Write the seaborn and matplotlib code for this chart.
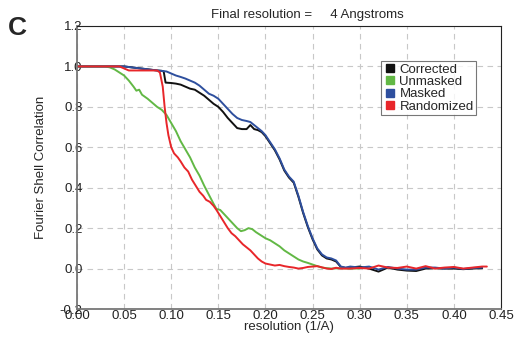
import numpy as np
import pandas as pd
import matplotlib
matplotlib.use("Agg")
import matplotlib.pyplot as plt
from matplotlib.lines import Line2D
import seaborn as sns

series_names = ["Corrected", "Unmasked", "Masked", "Randomized"]
colors = ["#111111", "#62b845", "#2e4f9e", "#e8262a"]

tail_x = [0.29, 0.30, 0.31, 0.32, 0.33, 0.34, 0.35, 0.36, 0.37, 0.38, 0.39, 0.40, 0.41, 0.42, 0.43]

masked_x = [0.0, 0.05, 0.085, 0.09, 0.095, 0.1, 0.105, 0.11, 0.115, 0.12, 0.125, 0.13, 0.135, 0.14,
            0.145, 0.15, 0.155, 0.16, 0.165, 0.17, 0.175, 0.18, 0.184, 0.188, 0.192, 0.196, 0.2,
            0.205, 0.21, 0.215, 0.22, 0.225, 0.23, 0.235, 0.24, 0.245, 0.25, 0.255, 0.26, 0.265,
            0.27, 0.275, 0.28, 0.285] + tail_x
masked_y = [1.0, 1.0, 0.98, 0.978, 0.975, 0.965, 0.955, 0.948, 0.94, 0.93, 0.92, 0.905, 0.885, 0.865,
            0.855, 0.84, 0.815, 0.79, 0.765, 0.745, 0.735, 0.73, 0.725, 0.71, 0.695, 0.68, 0.66,
            0.625, 0.59, 0.545, 0.49, 0.455, 0.43, 0.36, 0.28, 0.21, 0.15, 0.10, 0.07, 0.055,
            0.05, 0.04, 0.01, 0.005,
            0.01, 0.005, 0.01, -0.005, 0.008, 0.0, -0.005, -0.005, 0.005, 0.005, 0.0, 0.005, -0.002, 0.003, 0.005]

corrected_x = [0.0, 0.05, 0.085, 0.09, 0.092, 0.094, 0.1, 0.105, 0.11, 0.115, 0.12, 0.125, 0.13, 0.135,
               0.14, 0.145, 0.15, 0.155, 0.16, 0.165, 0.17, 0.175, 0.18, 0.184, 0.188, 0.192, 0.196,
               0.2, 0.205, 0.21, 0.215, 0.22, 0.225, 0.23, 0.235, 0.24, 0.245, 0.25, 0.255, 0.26,
               0.265, 0.27, 0.275, 0.28, 0.285] + tail_x
corrected_y = [1.0, 1.0, 0.98, 0.978, 0.975, 0.92, 0.918, 0.915, 0.91, 0.90, 0.89, 0.885, 0.87, 0.855,
               0.835, 0.815, 0.80, 0.775, 0.745, 0.72, 0.695, 0.69, 0.69, 0.71, 0.69, 0.685, 0.675,
               0.655, 0.62, 0.585, 0.54, 0.485, 0.45, 0.425, 0.355, 0.275, 0.205, 0.145, 0.095, 0.065,
               0.05, 0.045, 0.035, 0.008, 0.003,
               0.005, 0.01, 0.0, -0.015, 0.005, -0.005, -0.01, -0.012, 0.0, 0.002, 0.0, 0.0, -0.003, 0.0, 0.002]

unmasked_x = [0.0, 0.03, 0.035, 0.04, 0.045, 0.05, 0.055, 0.06, 0.063, 0.066, 0.069, 0.072, 0.075,
              0.08, 0.085, 0.09, 0.095, 0.1, 0.105, 0.11, 0.115, 0.12, 0.125, 0.13, 0.135, 0.14,
              0.145, 0.148, 0.152, 0.156, 0.16, 0.165, 0.17, 0.174, 0.178, 0.182, 0.186, 0.19,
              0.195, 0.2, 0.205, 0.21, 0.215, 0.22, 0.225, 0.23, 0.235, 0.24, 0.245, 0.25, 0.255,
              0.26, 0.265, 0.27, 0.28, 0.29, 0.30]
unmasked_y = [1.0, 1.0, 0.995, 0.985, 0.97, 0.955, 0.93, 0.90, 0.88, 0.885, 0.86, 0.85, 0.84,
              0.82, 0.80, 0.785, 0.76, 0.72, 0.68, 0.63, 0.59, 0.55, 0.50, 0.46, 0.41, 0.365,
              0.32, 0.295, 0.29, 0.27, 0.25, 0.225, 0.20, 0.185, 0.19, 0.20, 0.195, 0.18,
              0.165, 0.15, 0.14, 0.125, 0.11, 0.09, 0.075, 0.06, 0.045, 0.035, 0.028, 0.02, 0.012,
              0.005, 0.002, 0.0, 0.002, 0.0, 0.001]

randomized_x = [0.0, 0.02, 0.045, 0.05, 0.055, 0.07, 0.085, 0.088, 0.091, 0.093, 0.095, 0.097, 0.1,
                0.103, 0.107, 0.11, 0.114, 0.118, 0.122, 0.126, 0.13, 0.134, 0.137, 0.141, 0.145,
                0.148, 0.152, 0.156, 0.16, 0.164, 0.168, 0.172, 0.176, 0.18, 0.184, 0.188, 0.192,
                0.196, 0.2, 0.205, 0.21, 0.215, 0.22, 0.225, 0.23, 0.235, 0.24, 0.245, 0.25, 0.255,
                0.26, 0.265, 0.27, 0.275, 0.28] + tail_x + [0.435]
randomized_y = [1.0, 1.0, 1.0, 0.99, 0.98, 0.98, 0.98, 0.97, 0.90, 0.80, 0.72, 0.66, 0.60,
                0.57, 0.55, 0.53, 0.50, 0.48, 0.44, 0.41, 0.38, 0.36, 0.34, 0.33, 0.31,
                0.29, 0.26, 0.23, 0.20, 0.175, 0.16, 0.14, 0.12, 0.105, 0.09, 0.07, 0.05,
                0.035, 0.025, 0.02, 0.015, 0.018, 0.012, 0.008, 0.005, 0.0, 0.003, 0.008, 0.01, 0.012,
                0.006, 0.0, -0.002, 0.004, 0.0,
                0.0, 0.003, 0.0, 0.015, 0.005, 0.003, 0.01, 0.0, 0.012, 0.0, 0.005, 0.008, 0.0, 0.005, 0.01, 0.01]

x_ticks = [0.0, 0.05, 0.10, 0.15, 0.20, 0.25, 0.30, 0.35, 0.40, 0.45]
y_ticks = [-0.2, 0.0, 0.2, 0.4, 0.6, 0.8, 1.0, 1.2]

frames = []
for name, xs, ys in [("Corrected", corrected_x, corrected_y),
                     ("Unmasked", unmasked_x, unmasked_y),
                     ("Masked", masked_x, masked_y),
                     ("Randomized", randomized_x, randomized_y)]:
    frames.append(pd.DataFrame({"x": xs, "y": ys, "series": name, "order": np.arange(len(xs))}))
df = pd.concat(frames, ignore_index=True)

sns.set_style("white")
plt.rcParams["font.family"] = ["Liberation Sans", "DejaVu Sans"]

FS = 9.5
fig = plt.figure(figsize=(5.17, 3.38), dpi=100)
ax = fig.add_axes([77/517, 1-309/338, (501-77)/517, (309-26)/338])

for name, col in zip(series_names, colors):
    sub = df[df["series"] == name]
    sns.lineplot(data=sub, x="x", y="y", color=col, lw=1.4, sort=False,
                 estimator=None, ax=ax, legend=False)

ax.set_xlim(0, 0.45)
ax.set_ylim(-0.2, 1.2)
ax.set_xticks(x_ticks)
ax.set_yticks(y_ticks)
ax.set_xticklabels([f"{t:.2f}" for t in x_ticks])
ax.set_yticklabels([f"{t:.1f}" for t in y_ticks])
ax.grid(True, ls=(0, (5, 4)), color="#c8c8c8", lw=0.8)
ax.tick_params(axis="both", direction="in", length=4, width=0.8, colors="#555555",
               labelsize=FS, labelcolor="#222222")
ax.tick_params(axis="y", pad=-4)
ax.tick_params(axis="x", pad=1)
for lbl in ax.get_yticklabels():
    lbl.set_va("center_baseline")
for s in ["left", "bottom"]:
    ax.spines[s].set_color("#777777")
    ax.spines[s].set_linewidth(1.3)
for s in ["top", "right"]:
    ax.spines[s].set_color("#222222")
    ax.spines[s].set_linewidth(0.8)

ax.set_xlabel("resolution (1/A)", fontsize=FS, labelpad=-1)
ax.set_ylabel("Fourier Shell Correlation", fontsize=FS, labelpad=9)

handles = [Line2D([], [], marker="s", ls="none", color=c, markersize=6) for c in colors]
leg = ax.legend(handles, series_names, loc="upper left", bbox_to_anchor=((381-77)/424, (309-61)/283),
                fontsize=FS, frameon=True, fancybox=False, borderpad=0.2, labelspacing=0.0,
                handletextpad=0.2, handlelength=1.0, borderaxespad=0)
leg.get_frame().set_edgecolor("#555555")
leg.get_frame().set_linewidth(0.8)

fig.text(307/517, 1-15/338, "Final resolution =     4 Angstroms", ha="center", va="center", fontsize=FS)
fig.text(8/517, 1-28/338, "C", ha="left", va="center", fontsize=19, fontweight="bold")

fig.savefig("out.png", dpi=100)
